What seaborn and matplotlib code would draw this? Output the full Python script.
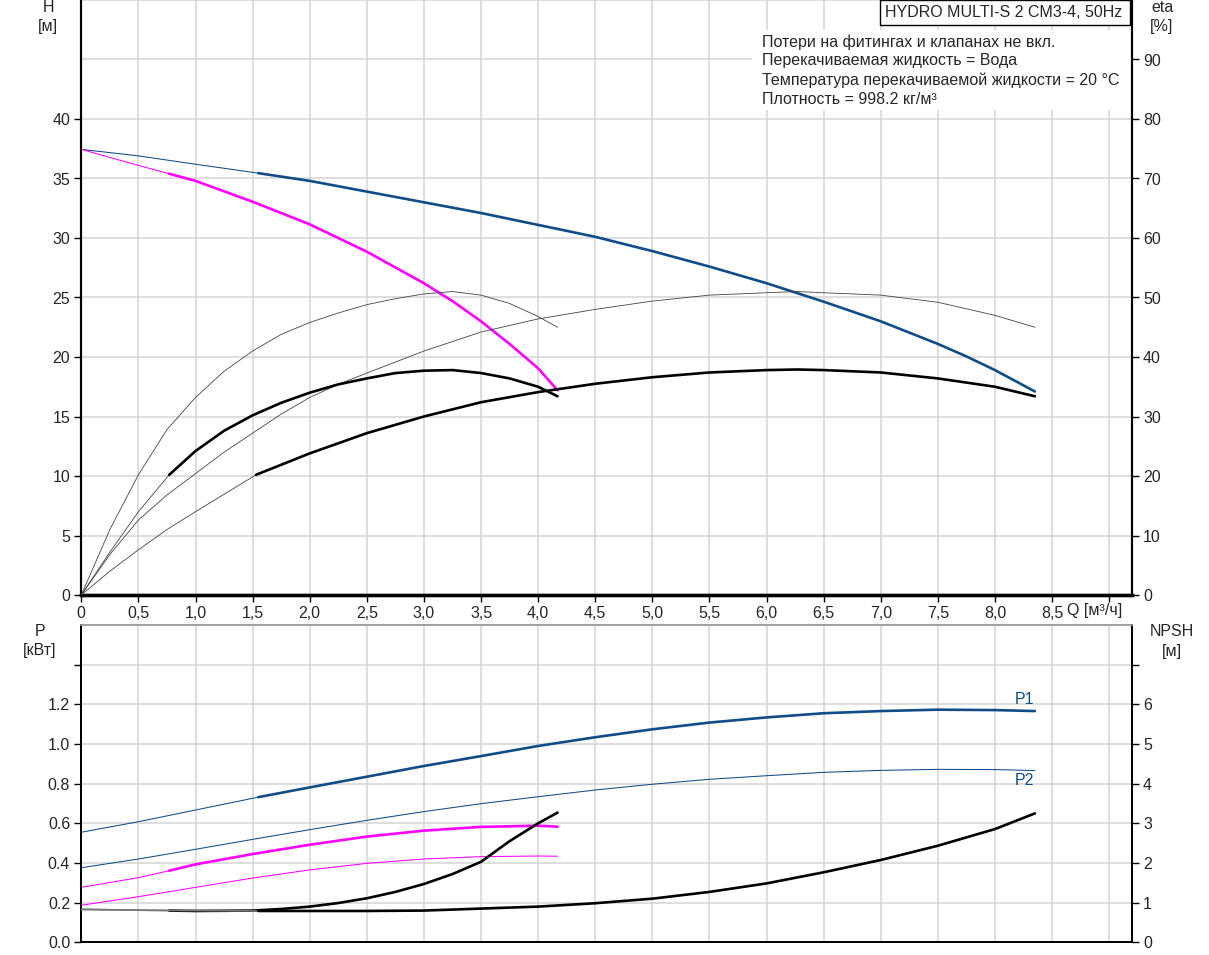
import matplotlib
matplotlib.use("Agg")
import matplotlib.pyplot as plt
from matplotlib.patches import Rectangle
from matplotlib.transforms import blended_transform_factory
import seaborn as sns

# ---------------- data ----------------
# Head, full curve (blue)  - thin lead part and thick part
H_full_thin_q = [0, 0.5, 1.0, 1.55]
H_full_thin_h = [37.45, 36.9, 36.2, 35.45]
H_full_q = [1.55, 2.0, 2.5, 3.0, 3.5, 4.0, 4.5, 5.0, 5.5, 6.0, 6.5, 7.0, 7.5, 7.75, 8.0, 8.35]
H_full_h = [35.45, 34.8, 33.9, 33.0, 32.1, 31.1, 30.1, 28.9, 27.6, 26.2, 24.65, 23.0, 21.1, 20.05, 18.9, 17.1]

# Head, reduced curve (magenta)
H_red_thin_q = [0, 0.5, 0.77]
H_red_thin_h = [37.45, 36.1, 35.4]
H_red_q = [0.77, 1.0, 1.5, 2.0, 2.5, 3.0, 3.25, 3.5, 3.75, 4.0, 4.17]
H_red_h = [35.4, 34.8, 33.05, 31.15, 28.85, 26.2, 24.7, 23.0, 21.1, 19.05, 17.2]

# Efficiency [%]
eta_red_pump_q = [0, 0.25, 0.5, 0.75, 1.0, 1.25, 1.5, 1.75, 2.0, 2.25, 2.5, 2.75, 3.0, 3.25, 3.5, 3.75, 4.0, 4.17]
eta_red_pump = [0, 11.0, 20.2, 27.8, 33.2, 37.6, 41.0, 43.8, 45.8, 47.4, 48.8, 49.8, 50.6, 51.0, 50.4, 49.0, 46.8, 45.0]
eta_red_tot_thin_q = [0, 0.25, 0.5, 0.77]
eta_red_tot_thin = [0, 7.2, 14.0, 20.2]
eta_red_tot_q = [0.77, 1.0, 1.25, 1.5, 1.75, 2.0, 2.25, 2.5, 2.75, 3.0, 3.25, 3.5, 3.75, 4.0, 4.17]
eta_red_tot = [20.2, 24.2, 27.6, 30.2, 32.3, 34.0, 35.4, 36.4, 37.3, 37.7, 37.8, 37.3, 36.4, 35.0, 33.4]

eta_full_pump_q = [0, 0.25, 0.5, 0.75, 1.0, 1.25, 1.5, 1.75, 2.0, 2.25, 2.5, 3.0, 3.5, 4.0, 4.5, 5.0,
                   5.5, 6.0, 6.27, 6.5, 7.0, 7.5, 8.0, 8.35]
eta_full_pump = [0, 6.8, 12.6, 16.8, 20.4, 24.0, 27.2, 30.4, 33.2, 35.4, 37.3, 41.0, 44.2, 46.4, 48.0, 49.4,
                 50.4, 50.8, 51.0, 50.8, 50.4, 49.2, 47.0, 45.0]
eta_full_tot_thin_q = [0, 0.25, 0.5, 0.75, 1.0, 1.53]
eta_full_tot_thin = [0, 4.0, 7.6, 11.0, 14.0, 20.2]
eta_full_tot_q = [1.53, 2.0, 2.5, 3.0, 3.5, 4.0, 4.5, 5.0, 5.5, 6.0, 6.27, 6.5, 7.0, 7.5, 8.0, 8.35]
eta_full_tot = [20.2, 23.8, 27.2, 30.0, 32.4, 34.1, 35.5, 36.6, 37.4, 37.8, 37.9, 37.8, 37.4, 36.4, 35.0, 33.4]

# Power [kW]
P1_full_thin_q = [0, 0.5, 1.0, 1.55]
P1_full_thin = [0.555, 0.608, 0.667, 0.732]
P1_full_q = [1.55, 2.0, 2.5, 3.0, 3.5, 4.0, 4.5, 5.0, 5.5, 6.0, 6.5, 7.0, 7.5, 8.0, 8.35]
P1_full = [0.732, 0.781, 0.835, 0.889, 0.939, 0.99, 1.034, 1.074, 1.108, 1.134, 1.155, 1.166, 1.173, 1.171, 1.166]
P2_full_q = [0, 0.5, 1, 1.5, 2, 2.5, 3, 3.5, 4, 4.5, 5, 5.5, 6, 6.5, 7, 7.5, 8, 8.35]
P2_full = [0.376, 0.42, 0.469, 0.519, 0.568, 0.615, 0.659, 0.699, 0.734, 0.768, 0.797, 0.822, 0.84, 0.857, 0.867, 0.872, 0.871, 0.866]

P1_red_thin_q = [0, 0.5, 0.77]
P1_red_thin = [0.277, 0.326, 0.361]
P1_red_q = [0.77, 1.0, 1.5, 2.0, 2.5, 3.0, 3.5, 4.0, 4.17]
P1_red = [0.361, 0.393, 0.445, 0.492, 0.533, 0.563, 0.582, 0.588, 0.583]
P2_red_q = [0, 0.5, 1, 1.5, 2, 2.5, 3, 3.5, 4, 4.17]
P2_red = [0.187, 0.23, 0.277, 0.324, 0.365, 0.398, 0.42, 0.432, 0.435, 0.434]

# NPSH [m]
npsh_red_thin_q = [0, 0.77]
npsh_red_thin = [0.83, 0.80]
npsh_red_q = [0.77, 1.0, 1.5, 1.75, 2.0, 2.25, 2.5, 2.75, 3.0, 3.25, 3.5, 3.75, 4.0, 4.17]
npsh_red = [0.80, 0.79, 0.80, 0.84, 0.90, 0.99, 1.11, 1.27, 1.47, 1.72, 2.03, 2.55, 3.0, 3.27]
npsh_full_thin_q = [0, 0.5, 1.0, 1.55]
npsh_full_thin = [0.83, 0.81, 0.80, 0.79]
npsh_full_q = [1.55, 2.0, 2.5, 3.0, 3.5, 4.0, 4.5, 5.0, 5.5, 6.0, 6.5, 7.0, 7.5, 8.0, 8.35]
npsh_full = [0.79, 0.79, 0.79, 0.80, 0.85, 0.90, 0.985, 1.10, 1.27, 1.485, 1.765, 2.075, 2.435, 2.855, 3.25]

x_ticks = [i * 0.5 for i in range(19)]
x_labels = ["0", "0,5", "1,0", "1,5", "2,0", "2,5", "3,0", "3,5", "4,0", "4,5",
            "5,0", "5,5", "6,0", "6,5", "7,0", "7,5", "8,0", "8,5", ""]
H_ticks = [0, 5, 10, 15, 20, 25, 30, 35, 40]
eta_ticks = [0, 10, 20, 30, 40, 50, 60, 70, 80, 90]
P_ticks = [0.0, 0.2, 0.4, 0.6, 0.8, 1.0, 1.2, 1.4]
P_labels = ["0.0", "0.2", "0.4", "0.6", "0.8", "1.0", "1.2", ""]
npsh_ticks = [0, 1, 2, 3, 4, 5, 6, 7]
npsh_labels = ["0", "1", "2", "3", "4", "5", "6", ""]

title_box = "HYDRO MULTI-S 2 CM3-4, 50Hz"
notes = ["Потери на фитингах и клапанах не вкл.",
         "Перекачиваемая жидкость = Вода",
         "Температура перекачиваемой жидкости = 20 °C",
         "Плотность = 998.2 кг/м³"]

# ---------------- style ----------------
sns.set_style("white")
plt.rcParams["font.family"] = ["Liberation Sans", "DejaVu Sans"]
FS = 11.5
BLUE = "#0f4c88"
MAG = "#ff00ff"
GRID = "#d4d4d4"
ETA_THIN = "#444444"

W, H = 1209, 955
fig = plt.figure(figsize=(W / 100, H / 100), dpi=100)
fig.patch.set_facecolor("white")

x0, x1 = 81.3, 1132
ax1 = fig.add_axes([x0 / W, 1 - 595 / H, (x1 - x0) / W, 595 / H])
ax2 = fig.add_axes([x0 / W, 1 - 942.3 / H, (x1 - x0) / W, (942.3 - 625) / H])
ax1r = ax1.twinx()
ax2r = ax2.twinx()

for ax in (ax1, ax2):
    ax.set_xlim(0, 9.2)
    ax.set_facecolor("white")

ax1.set_ylim(0, 50)
ax1r.set_ylim(0, 100)
ax2.set_ylim(0, 1.6)
ax2r.set_ylim(0, 8)


def line(ax, q, v, color, lw, z=3):
    sns.lineplot(x=q, y=v, ax=ax, color=color, linewidth=lw, sort=False,
                 estimator=None, zorder=z, legend=False)


THICK = 1.9
THIN = 0.75

# Top panel: head
line(ax1, H_full_thin_q, H_full_thin_h, BLUE, THIN)
line(ax1, H_full_q, H_full_h, BLUE, THICK)
line(ax1, H_red_thin_q, H_red_thin_h, MAG, THIN)
line(ax1, H_red_q, H_red_h, MAG, THICK)
# efficiency
line(ax1r, eta_red_pump_q, eta_red_pump, ETA_THIN, 0.6)
line(ax1r, eta_full_pump_q, eta_full_pump, ETA_THIN, 0.6)
line(ax1r, eta_red_tot_thin_q, eta_red_tot_thin, ETA_THIN, 0.6)
line(ax1r, eta_red_tot_q, eta_red_tot, "black", THICK)
line(ax1r, eta_full_tot_thin_q, eta_full_tot_thin, ETA_THIN, 0.6)
line(ax1r, eta_full_tot_q, eta_full_tot, "black", THICK)

# Bottom panel: power
line(ax2, P1_full_thin_q, P1_full_thin, BLUE, THIN)
line(ax2, P1_full_q, P1_full, BLUE, THICK)
line(ax2, P2_full_q, P2_full, BLUE, THIN)
line(ax2, P1_red_thin_q, P1_red_thin, MAG, THIN)
line(ax2, P1_red_q, P1_red, MAG, THICK)
line(ax2, P2_red_q, P2_red, MAG, THIN)
# NPSH
line(ax2r, npsh_red_thin_q, npsh_red_thin, "#777777", 1.2)
line(ax2r, npsh_red_q, npsh_red, "black", THICK)
line(ax2r, npsh_full_thin_q, npsh_full_thin, "#777777", 1.2)
line(ax2r, npsh_full_q, npsh_full, "black", THICK)

ax2.text(8.26, 1.222, "P1", color=BLUE, fontsize=FS, ha="center", va="center")
ax2.text(8.26, 0.818, "P2", color=BLUE, fontsize=FS, ha="center", va="center")

# ---------------- axes / ticks / grid ----------------
for ax in (ax1, ax2):
    ax.set_xticks(x_ticks)
    ax.grid(True, which="both", color=GRID, linewidth=1.1)
    ax.set_axisbelow(True)
    ax.set_xlabel("")
    ax.set_ylabel("")
for ax in (ax1r, ax2r):
    ax.grid(False)
    ax.set_ylabel("")

ax1.set_xticklabels(x_labels)
ax1.set_yticks(H_ticks)
ax1.set_yticklabels([str(t) for t in H_ticks])
ax1.set_yticks([45, 50], minor=True)
ax1.tick_params(axis="y", which="minor", length=0)
ax1.tick_params(axis="both", which="major", direction="out", length=5, width=1,
                color="black", labelsize=FS, pad=3, left=True, bottom=True)
ax1r.set_yticks(eta_ticks)
ax1r.set_yticklabels([str(t) for t in eta_ticks])
ax1r.tick_params(axis="y", direction="out", length=5, width=1, color="black",
                 labelsize=FS, pad=3, right=True)

ax2.set_xticklabels([])
ax2.tick_params(axis="x", length=0)
ax2.set_yticks(P_ticks)
ax2.set_yticklabels(P_labels)
ax2.set_yticks([1.6], minor=True)
ax2.tick_params(axis="y", which="minor", length=0)
ax2.tick_params(axis="y", which="major", direction="out", length=5, width=1,
                color="black", labelsize=FS, pad=3, left=True)
ax2r.set_yticks(npsh_ticks)
ax2r.set_yticklabels(npsh_labels)
ax2r.tick_params(axis="y", direction="out", length=5, width=1, color="black",
                 labelsize=FS, pad=3, right=True)

for ax in (ax1, ax1r):
    ax.spines["top"].set_visible(False)
    ax.spines["left"].set_color("black")
    ax.spines["left"].set_linewidth(1.5)
    ax.spines["right"].set_color("black")
    ax.spines["right"].set_linewidth(1.5)
    ax.spines["bottom"].set_color("black")
    ax.spines["bottom"].set_linewidth(2.4)
for ax in (ax2, ax2r):
    for s in ("left", "right", "bottom"):
        ax.spines[s].set_color("black")
        ax.spines[s].set_linewidth(1.4)
    ax.spines["top"].set_color("#a0a0a0")
    ax.spines["top"].set_linewidth(1.2)

# Q label next to x ticks
tr = blended_transform_factory(ax1.transData, ax1.transAxes)
ax1.text(8.63, -15 / 595, "Q [м³/ч]", transform=tr, fontsize=FS,
         ha="left", va="center")

# axis titles
def ftext(x, y, s, **kw):
    fig.text(x / W, 1 - y / H, s, fontsize=FS, ha="center", va="center", **kw)

ftext(48, 8, "H")
ftext(48, 26, "[м]")
ftext(1162, 8, "eta")
ftext(1162, 26, "[%]")
ftext(40, 632, "P")
ftext(40, 650, "[кВт]")
ftext(1172, 632, "NPSH")
ftext(1172, 651, "[м]")

# title box and notes
ax1.add_patch(Rectangle((752 / W, 1 - 110 / H), (1131 - 752) / W, 80 / H,
                        transform=fig.transFigure, facecolor="white",
                        edgecolor="none", zorder=1, clip_on=False))
ax1.add_patch(Rectangle((880 / W, 1 - 25 / H), (1130 - 880) / W, 25 / H,
                        transform=fig.transFigure, facecolor="white",
                        edgecolor="black", linewidth=1, zorder=4, clip_on=False))
fig.text(1004 / W, 1 - 12.5 / H, title_box, fontsize=FS, ha="center",
         va="center", zorder=5)
for i, s in enumerate(notes):
    fig.text(762 / W, 1 - (42 + 19 * i) / H, s, fontsize=FS, ha="left",
             va="center")

fig.savefig("out.png", dpi=100, facecolor="white")
